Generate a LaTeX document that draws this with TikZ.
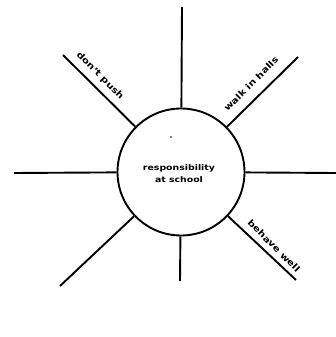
\documentclass[tikz,border=0pt]{standalone}
\usepackage{fontspec}
\setmainfont{DejaVu Sans}
\newcommand{\widetxt}[1]{\scalebox{1.2}[1]{\bfseries #1}}
\begin{document}
\begin{tikzpicture}[x=1pt,y=-1pt,
  ray/.style={line width=1.9pt},
  hub/.style={circle,draw,line width=1.9pt,minimum size=127pt,inner sep=0pt},
  lbl/.style={font=\fontsize{7.8}{12}\selectfont,inner sep=0pt,align=center},
  side/.style={font=\fontsize{8.6}{12}\selectfont,inner sep=0pt}]
\useasboundingbox (0,0) rectangle (336,337);
\node[hub] (c) at (181,172) {};
\node[lbl] (t) at (179,174) {\widetxt{responsibility}\\\widetxt{at school}};
\coordinate (n) at (182,7);
\coordinate (s) at (180,281);
\coordinate (w) at (14,173);
\coordinate (e) at (336,173);
\coordinate (nw) at (63,55);
\coordinate (ne) at (298,57);
\coordinate (sw) at (60,286);
\coordinate (se) at (296,280);
\foreach \p in {n,s,w,e,nw,ne,sw,se} \draw[ray] (c) -- (\p);
\node[side,rotate=-45] (l1) at (100,76) {\widetxt{don't push}};
\node[side,rotate=45] (l2) at (251,84) {\widetxt{walk in halls}};
\node[side,rotate=-45] (l3) at (274,246) {\widetxt{behave well}};
\fill (171,137) circle (0.9);
\end{tikzpicture}
\end{document}
